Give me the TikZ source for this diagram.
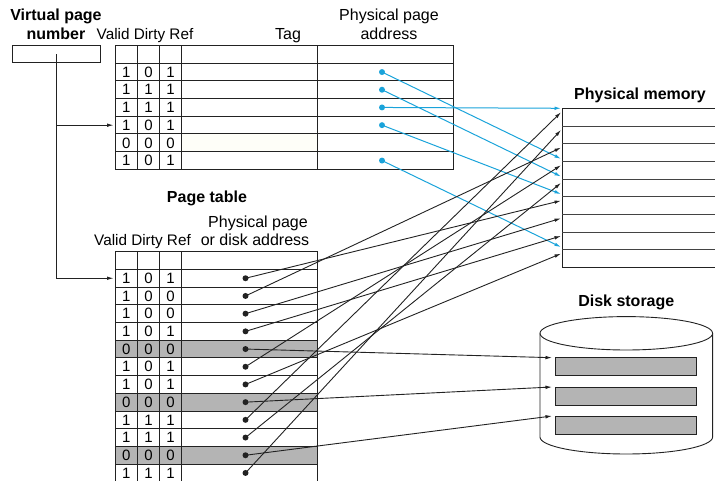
\documentclass[tikz,border=0pt]{standalone}
\usepackage{fontspec}
\setmainfont{Liberation Sans}
\usetikzlibrary{arrows.meta}
\definecolor{cy}{HTML}{1AA3DA}
\definecolor{cellgray}{HTML}{B4B4B4}
\definecolor{ink}{HTML}{222222}
\definecolor{faint}{HTML}{FEFEF8}
\begin{document}
\begin{tikzpicture}[x=1pt,y=-1pt,
  lbl/.style={font=\fontsize{16}{19}\selectfont, inner sep=0pt, anchor=base},
  blbl/.style={font=\fontsize{16}{19}\selectfont\bfseries, inner sep=0pt, anchor=base},
  hdr/.style={font=\fontsize{15.3}{18}\selectfont, inner sep=0pt, anchor=base},
  digit/.style={font=\fontsize{15}{18}\selectfont, inner sep=0pt},
  gridline/.style={draw=ink, line width=1pt},
  cdot/.style={circle, fill=cy, inner sep=0pt, minimum size=6pt},
  bdot/.style={circle, fill=ink, inner sep=0pt, minimum size=6pt},
  carrow/.style={draw=cy, line width=1pt, -{Latex[length=6.5pt,width=3.6pt]}},
  barrow/.style={draw=ink, line width=0.9pt, -{Latex[length=6.5pt,width=3.6pt]}},
]
\useasboundingbox (0,0) rectangle (715,481);

% ---------------- labels ----------------
\node[blbl] (lvp1) at (56,20.5) {Virtual page};
\node[blbl] (lvp2) at (56,39.3) {number};
\node[hdr] (ltv) at (145,39.3) {Valid Dirty Ref};
\node[lbl] (ltag) at (288,39.5) {Tag};
\node[lbl] (ltp1) at (389,20.7) {Physical page};
\node[lbl] (ltp2) at (389,40) {address};
\node[blbl] (lpt) at (207,202.7) {Page table};
\node[lbl] (lpp1) at (258,227.3) {Physical page};
\node[lbl] (lpp2) at (255,245.7) {or disk address};
\node[hdr] (lpv) at (142.5,245.7) {Valid Dirty Ref};
\node[blbl] (lpm) at (640,99.3) {Physical memory};
\node[blbl] (lds) at (626.3,306.7) {Disk storage};

% ---------------- virtual page number box ----------------
\node[draw=ink, line width=1pt, minimum width=87.3pt, minimum height=17.3pt, inner sep=0pt] (vpn) at (56.35,54.35) {};

% ---------------- TLB ----------------
\fill[faint] (181.7,134) rectangle (317,151.7);
\draw[gridline] (115,45.5) rectangle (453,169.4);
\foreach \k in {1,...,6} {
  \draw[gridline] (115,{45.5+\k*17.7}) -- (453,{45.5+\k*17.7});
}
\foreach \xx in {137.7,159.3,181.7,317} {
  \draw[gridline] (\xx,45.5) -- (\xx,169.4);
}
\foreach \a/\b/\c [count=\i] in {1/0/1,1/1/1,1/1/1,1/0/1,0/0/0,1/0/1} {
  \pgfmathsetmacro\yy{63.2+(\i-0.5)*17.7}
  \node[digit] (tva\i) at (126.3,\yy) {\a};
  \node[digit] (tvb\i) at (148.5,\yy) {\b};
  \node[digit] (tvc\i) at (170.5,\yy) {\c};
}
\foreach \i in {1,2,3,4,6} {
  \pgfmathsetmacro\yy{63.2+(\i-0.5)*17.7}
  \node[cdot] (t\i) at (382,\yy) {};
}

% ---------------- Page table ----------------
\foreach \i in {5,8,11} {
  \fill[cellgray] (115,{269.4+(\i-1)*17.7}) rectangle (317.7,{269.4+\i*17.7});
}
\draw[gridline] (115,485) -- (115,251.7) -- (317.7,251.7) -- (317.7,485);
\foreach \k in {1,...,12} {
  \draw[gridline] (115,{251.7+\k*17.7}) -- (317.7,{251.7+\k*17.7});
}
\foreach \xx in {137.7,159.3,181.3} {
  \draw[gridline] (\xx,251.7) -- (\xx,485);
}
\foreach \a/\b/\c [count=\i] in {1/0/1,1/0/0,1/0/0,1/0/1,0/0/0,1/0/1,1/0/1,0/0/0,1/1/1,1/1/1,0/0/0,1/1/1} {
  \pgfmathsetmacro\yy{269.4+(\i-0.5)*17.7}
  \node[digit] (pva\i) at (126.3,\yy) {\a};
  \node[digit] (pvb\i) at (148.5,\yy) {\b};
  \node[digit] (pvc\i) at (170.5,\yy) {\c};
  \node[bdot] (p\i) at (245.5,\yy) {};
}

% ---------------- Physical memory ----------------
\draw[gridline] (716,108.3) -- (562.3,108.3) -- (562.3,267.3) -- (716,267.3);
\foreach \k in {1,...,8} {
  \draw[draw=ink!85, line width=0.9pt] (562.3,{108.3+\k*17.67}) -- (716,{108.3+\k*17.67});
}
\foreach \k in {1,...,9} {
  \coordinate (m\k) at (561,{108.3+(\k-1)*17.67+4});
}
\coordinate (c1) at (561,158.8);
\coordinate (c2) at (561,176.5);
\coordinate (c3) at (561,108.3);
\coordinate (c4) at (561,194.1);
\coordinate (c5) at (561,247.1);

% ---------------- Disk storage ----------------
\draw[draw=ink, line width=0.9pt] (626.3,333.3) ellipse [x radius=86.3pt, y radius=16.7pt];
\draw[draw=ink, line width=0.9pt] (540,333.3) -- (540,437) arc [start angle=180, end angle=360, x radius=86.3pt, y radius=17pt] -- (712.6,333.3);
\foreach \yt [count=\i] in {357.7,387,416} {
  \draw[draw=ink, line width=0.9pt, fill=cellgray] (555,\yt) rectangle (696.7,{\yt+18});
  \coordinate (d\i) at (552,\yt);
}

% ---------------- VPN connectors ----------------
\coordinate (vbr) at (vpn.center |- 0,125.2);
\coordinate (tin) at (113.5,125.2);
\coordinate (pin) at (113.5,278.25);
\draw[draw=ink, line width=0.9pt] (vpn.center) -- (vpn.center |- pin);
\draw[barrow] (vbr) -- (tin);
\draw[barrow] (vpn.center |- pin) -- (pin);

% ---------------- TLB -> memory (cyan) ----------------
\draw[carrow] (t1.center) -- (c1);
\draw[carrow] (t2.center) -- (c2);
\draw[carrow] (t3.center) -- (c3);
\draw[carrow] (t4.center) -- (c4);
\draw[carrow] (t6.center) -- (c5);

% ---------------- Page table -> memory / disk (black) ----------------
\foreach \s/\d in {1/6,2/3,3/7,4/8,6/4,7/9,9/1,10/5,12/2} {
  \draw[barrow] (p\s.center) -- (m\d);
}
\draw[barrow] (p5.center) -- (d1);
\draw[barrow] (p8.center) -- (d2);
\draw[barrow] (p11.center) -- (d3);
\end{tikzpicture}
\end{document}
